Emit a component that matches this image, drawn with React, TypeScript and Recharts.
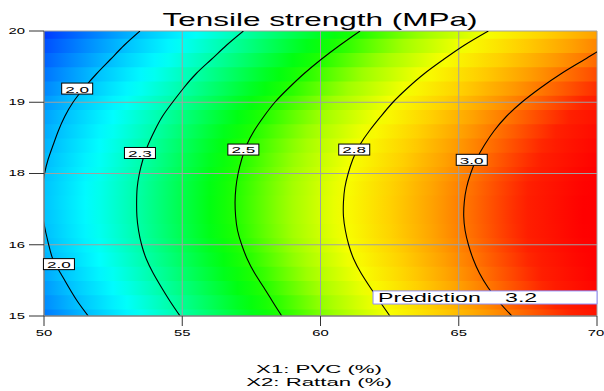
import {
  ComposedChart,
  XAxis,
  YAxis,
  Line,
  ReferenceArea,
  ReferenceLine,
  ReferenceDot,
} from 'recharts';

// X1: PVC (%) along the bottom, X2: Rattan (%) up the side
const xTicks = [50, 55, 60, 65, 70];
const yTicks = [15, 16.25, 17.5, 18.75, 20];
const yTickLabels = ['15', '16', '18', '19', '20'];

// rows of the plot (X2 values) where the contours were read
const rowY = [15, 15.25, 15.5, 15.75, 16, 16.25, 16.5, 16.75, 17, 17.25, 17.5, 17.75, 18, 18.25, 18.5, 18.75, 19, 19.25, 19.5, 19.75, 20];

// X1 position of each contour level on those rows
const contour20X = [51.6, 51.22, 50.9, 50.6, 50.32, 50.17, 50.05, 49.95, 49.88, 49.93, 50.02, 50.15, 50.33, 50.52, 50.75, 51.05, 51.45, 51.9, 52.4, 52.9, 53.47];
const contour23X = [54.92, 54.57, 54.25, 53.95, 53.7, 53.53, 53.42, 53.36, 53.35, 53.37, 53.45, 53.58, 53.76, 54.0, 54.28, 54.65, 55.05, 55.5, 56.05, 56.6, 57.21];
const contour25X = [58.6, 58.27, 57.95, 57.62, 57.35, 57.15, 57.0, 56.93, 56.91, 56.94, 57.02, 57.15, 57.33, 57.6, 57.95, 58.35, 58.85, 59.4, 60.02, 60.7, 61.43];
const contour28X = [62.51, 62.15, 61.8, 61.47, 61.2, 61.02, 60.9, 60.83, 60.83, 60.88, 61.0, 61.17, 61.42, 61.77, 62.18, 62.62, 63.15, 63.75, 64.45, 65.2, 66.07];
const contour30X = [66.92, 66.45, 66.06, 65.75, 65.52, 65.35, 65.23, 65.18, 65.2, 65.28, 65.43, 65.64, 65.93, 66.28, 66.72, 67.28, 67.95, 68.7, 69.55, 70.4, 71.3];
const contourLevels = [2.0, 2.3, 2.5, 2.8, 3.0];
const contourX = [contour20X, contour23X, contour25X, contour28X, contour30X];

// boxed contour labels
const labelX = [51.2, 50.54, 53.47, 57.21, 61.22, 65.47];
const labelY = [18.99, 15.91, 17.86, 17.92, 17.92, 17.74];
const labelText = ['2.0', '2.0', '2.3', '2.5', '2.8', '3.0'];

const predictionText = 'Prediction';
const predictionValue = '3.2';

const FONT = '"Liberation Sans", Arial, sans-serif';

// value -> colour ramp (blue, cyan, green, yellow, red)
const ramp: [number, string][] = [
  [1.7, '#0030ff'],
  [1.85, '#0078ff'],
  [2.0, '#00c0ff'],
  [2.15, '#00ffff'],
  [2.3, '#00ffa8'],
  [2.45, '#00ff10'],
  [2.5, '#20ff00'],
  [2.65, '#a0ff00'],
  [2.8, '#f8ff00'],
  [2.88, '#ffd000'],
  [2.95, '#ffa000'],
  [3.0, '#ff7800'],
  [3.1, '#ff2000'],
  [3.2, '#ff0000'],
];

function hexRgb(h: string) {
  return [1, 3, 5].map((k) => parseInt(h.slice(k, k + 2), 16));
}

function rampColor(v: number) {
  if (v <= ramp[0][0]) return ramp[0][1];
  for (let k = 1; k < ramp.length; k++) {
    if (v <= ramp[k][0]) {
      const t = (v - ramp[k - 1][0]) / (ramp[k][0] - ramp[k - 1][0]);
      const a = hexRgb(ramp[k - 1][1]);
      const b = hexRgb(ramp[k][1]);
      const c = a.map((ch, j) => Math.round(ch + (b[j] - ch) * t));
      return `rgb(${c[0]},${c[1]},${c[2]})`;
    }
  }
  return ramp[ramp.length - 1][1];
}

// value on row i at X1 = x, read between the contour crossings of that row
function rowValue(i: number, x: number) {
  const pts = contourX.map((c, k) => [c[i], contourLevels[k]]);
  let k = 1;
  while (k < pts.length - 1 && x > pts[k][0]) k++;
  const [x0, v0] = pts[k - 1];
  const [x1, v1] = pts[k];
  return v0 + ((v1 - v0) * (x - x0)) / (x1 - x0);
}

const stopXs = Array.from({ length: 41 }, (_, k) => 50 + k * 0.5);

function ContourTag({ cx, cy, text }: any) {
  return (
    <g transform={`translate(${cx},${cy})`}>
      <rect x={-15.5} y={-5.5} width={31} height={11} fill="#fff" stroke="#000" strokeWidth={1} />
      <text
        transform="scale(1.8,1)"
        x={0}
        y={0.5}
        textAnchor="middle"
        dominantBaseline="central"
        fontSize={9.5}
        fontFamily={FONT}
        fill="#000"
      >
        {text}
      </text>
    </g>
  );
}

function PredictionLabel({ viewBox }: any) {
  const { x, y, height } = viewBox;
  const base = y + height - 2.3;
  return (
    <g>
      <text transform={`translate(${x + 5},${base}) scale(1.85,1)`} fontSize={12.5} fontFamily={FONT} fill="#000">
        {predictionText}
      </text>
      <text transform={`translate(${x + 132},${base}) scale(1.85,1)`} fontSize={12.5} fontFamily={FONT} fill="#000">
        {predictionValue}
      </text>
    </g>
  );
}

function YTick({ x, y, payload }: any) {
  const i = yTicks.indexOf(payload.value);
  return (
    <text
      transform={`translate(${x},${y}) scale(1.65,1)`}
      textAnchor="end"
      dominantBaseline="central"
      fontSize={9}
      fontFamily={FONT}
      fill="#000"
    >
      {yTickLabels[i]}
    </text>
  );
}

function XTick({ x, y, payload }: any) {
  return (
    <text
      transform={`translate(${x},${y + 5}) scale(1.65,1)`}
      textAnchor="middle"
      dominantBaseline="central"
      fontSize={9}
      fontFamily={FONT}
      fill="#000"
    >
      {payload.value}
    </text>
  );
}

export default function App() {
  const lines = contourX.map((xs) => xs.map((x, i) => ({ x, y: rowY[i] })));

  return (
    <div style={{ position: 'absolute', left: 0, top: 0, width: 604, height: 391, background: '#fff' }}>
      <ComposedChart width={604} height={391} margin={{ top: 31, right: 7, bottom: 45, left: 0 }}>
        <XAxis
          type="number"
          dataKey="x"
          domain={[50, 70]}
          ticks={xTicks}
          allowDataOverflow
          height={30}
          tickSize={10}
          tick={<XTick />}
          axisLine={{ stroke: '#808080', strokeWidth: 1.5 }}
          tickLine={{ stroke: '#333' }}
        />
        <YAxis
          type="number"
          domain={[15, 20]}
          ticks={yTicks}
          allowDataOverflow
          width={44}
          tickSize={15}
          tickMargin={4}
          tick={<YTick />}
          axisLine={{ stroke: '#808080', strokeWidth: 1.5 }}
          tickLine={{ stroke: '#333' }}
        />

        {/* colour field, one strip per row */}
        {rowY.map((y, i) => (
          <ReferenceArea
            key={`strip-${i}`}
            x1={50}
            x2={70}
            y1={Math.max(15, y - 0.135)}
            y2={Math.min(20, y + 0.135)}
            fill={`url(#row${i})`}
            fillOpacity={1}
            stroke="none"
            ifOverflow="visible"
          />
        ))}

        {/* grid */}
        {xTicks.slice(1).map((t) => (
          <ReferenceLine key={`gx-${t}`} x={t} stroke="#a0a0a0" strokeWidth={1} />
        ))}
        {yTicks.slice(1).map((t) => (
          <ReferenceLine key={`gy-${t}`} y={t} stroke="#a0a0a0" strokeWidth={1} />
        ))}

        {lines.map((pts, k) => (
          <Line
            key={`c-${k}`}
            data={pts}
            dataKey="y"
            type="natural"
            stroke="#000"
            strokeWidth={1.1}
            dot={false}
            activeDot={false}
            isAnimationActive={false}
          />
        ))}

        {labelX.map((x, i) => (
          <ReferenceDot
            key={`lab-${i}`}
            x={x}
            y={labelY[i]}
            r={0}
            shape={(p: any) => <ContourTag cx={p.cx} cy={p.cy} text={labelText[i]} />}
          />
        ))}

        <ReferenceArea
          x1={61.9}
          x2={70}
          y1={15.21}
          y2={15.44}
          fill="#fff"
          fillOpacity={1}
          stroke="#8c8cff"
          strokeWidth={1}
          zIndex={700}
          label={<PredictionLabel />}
        />
      </ComposedChart>

      <svg width={604} height={391} style={{ position: 'absolute', left: 0, top: 0, pointerEvents: 'none' }}>
        <defs>
          {rowY.map((_, i) => (
            <linearGradient key={i} id={`row${i}`} x1="0" y1="0" x2="1" y2="0">
              {stopXs.map((x) => (
                <stop key={x} offset={(x - 50) / 20} stopColor={rampColor(rowValue(i, x))} />
              ))}
            </linearGradient>
          ))}
        </defs>
        <text transform="translate(320,26) scale(1.75,1)" textAnchor="middle" fontSize={18} fontFamily={FONT} fill="#000">
          Tensile strength (MPa)
        </text>
        <text transform="translate(319,373) scale(2.02,1)" textAnchor="middle" fontSize={11} fontFamily={FONT} fill="#000">
          X1: PVC (%)
        </text>
        <text transform="translate(319,386) scale(2.02,1)" textAnchor="middle" fontSize={11} fontFamily={FONT} fill="#000">
          X2: Rattan (%)
        </text>
      </svg>
    </div>
  );
}
